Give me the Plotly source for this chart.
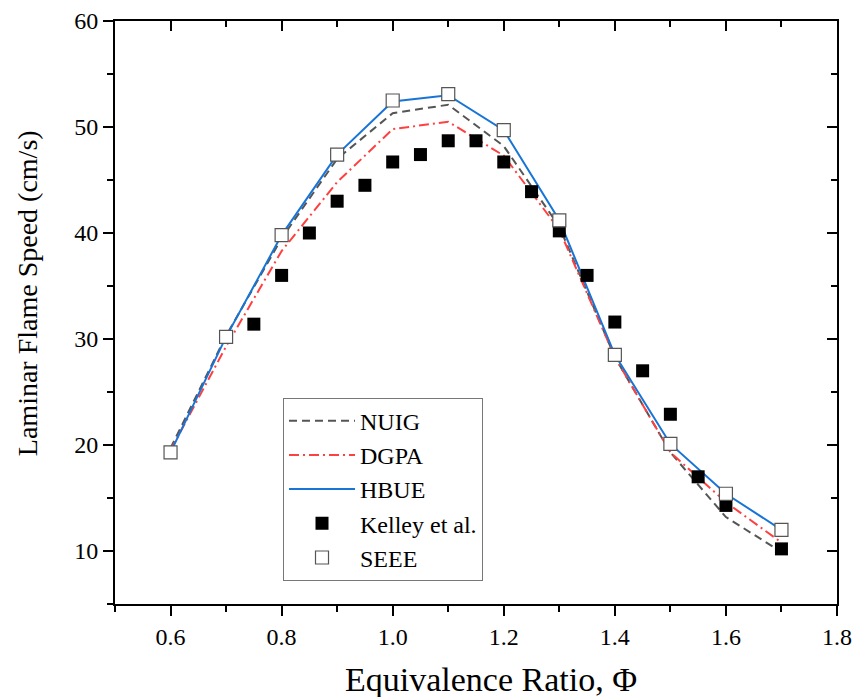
import plotly.graph_objects as go

# ---- data ----
phi_model = [0.6, 0.7, 0.8, 0.9, 1.0, 1.1, 1.2, 1.3, 1.4, 1.5, 1.6, 1.7]
nuig = [19.7, 30.3, 39.5, 47.0, 51.3, 52.1, 48.2, 40.6, 28.3, 19.3, 13.2, 9.9]
dgpa = [19.5, 29.3, 38.3, 44.8, 49.8, 50.5, 47.3, 40.3, 28.3, 19.3, 14.6, 10.8]
hbue = [19.3, 30.2, 39.8, 47.4, 52.4, 53.0, 49.7, 41.2, 28.5, 20.1, 15.4, 12.0]

phi_kelley = [0.75, 0.8, 0.85, 0.9, 0.95, 1.0, 1.05, 1.1, 1.15, 1.2, 1.25, 1.3,
              1.35, 1.4, 1.45, 1.5, 1.55, 1.6, 1.7]
kelley = [31.4, 36.0, 40.0, 43.0, 44.5, 46.7, 47.4, 48.7, 48.7, 46.7, 43.9, 40.2,
          36.0, 31.6, 27.0, 22.9, 17.0, 14.3, 10.2]

phi_seee = [0.6, 0.7, 0.8, 0.9, 1.0, 1.1, 1.2, 1.3, 1.4, 1.5, 1.6, 1.7]
seee = [19.3, 30.2, 39.8, 47.4, 52.5, 53.1, 49.7, 41.2, 28.5, 20.1, 15.4, 12.0]

x_range = [0.5, 1.8]
y_range = [5, 60]

x_title = "Equivalence Ratio, Φ"
y_title = "Laminar Flame Speed (cm/s)"

SERIF = "Liberation Serif, Times New Roman, serif"

fig = go.Figure()
fig.add_trace(go.Scatter(x=phi_model, y=nuig, mode="lines", name="NUIG",
                         line=dict(color="#555555", width=2, dash="8px,5px")))
fig.add_trace(go.Scatter(x=phi_model, y=dgpa, mode="lines", name="DGPA",
                         line=dict(color="#ff4040", width=2, dash="10px,4px,2px,4px")))
fig.add_trace(go.Scatter(x=phi_model, y=hbue, mode="lines", name="HBUE",
                         line=dict(color="#1874d6", width=2)))
fig.add_trace(go.Scatter(x=phi_kelley, y=kelley, mode="markers", name="Kelley et al.",
                         marker=dict(symbol="square", size=13, color="black",
                                     line=dict(width=0))))
fig.add_trace(go.Scatter(x=phi_seee, y=seee, mode="markers", name="SEEE",
                         marker=dict(symbol="square", size=13, color="white",
                                     line=dict(color="#555555", width=1.2))))

axis_common = dict(showgrid=False, zeroline=False, showline=True, automargin=False,
                   linecolor="black", linewidth=2, tickcolor="black", tickwidth=1.5)

fig.update_layout(
    width=855, height=697,
    margin=dict(l=115, r=18, t=21, b=93),
    paper_bgcolor="white", plot_bgcolor="white",
    font=dict(family=SERIF, color="black"),
    xaxis=dict(range=x_range, tick0=0.6, dtick=0.2, tickformat=".1f",
               ticks="outside", ticklen=10,
               minor=dict(ticks="outside", ticklen=6, dtick=0.1, tick0=0.5,
                          tickcolor="black", tickwidth=1.5),
               tickfont=dict(size=24, family=SERIF),
               **axis_common),
    yaxis=dict(range=y_range, tick0=0, dtick=10,
               ticks="outside", ticklen=10,
               minor=dict(ticks="outside", ticklen=6, dtick=5, tick0=0,
                          tickcolor="black", tickwidth=1.5),
               tickfont=dict(size=24, family=SERIF),
               **axis_common),
    xaxis2=dict(overlaying="x", side="top", range=x_range, tick0=0.6, dtick=0.2,
                ticks="inside", ticklen=10, showticklabels=False,
                minor=dict(ticks="inside", ticklen=6, dtick=0.1, tick0=0.5,
                           tickcolor="black", tickwidth=1.5),
                **axis_common),
    yaxis2=dict(overlaying="y", side="right", range=y_range, tick0=0, dtick=10,
                ticks="inside", ticklen=10, showticklabels=False,
                minor=dict(ticks="inside", ticklen=6, dtick=5, tick0=0,
                           tickcolor="black", tickwidth=1.5),
                **axis_common),
    legend=dict(x=0.2327, y=0.354, xanchor="left", yanchor="top",
                bgcolor="white", bordercolor="#777777", borderwidth=1,
                font=dict(size=24, family=SERIF, color="black"),
                itemwidth=66, tracegroupgap=0),
    showlegend=True,
    annotations=[
        dict(text=x_title, xref="paper", yref="paper", x=0.521, y=-0.130,
             xanchor="center", yanchor="middle", showarrow=False,
             font=dict(size=34, family=SERIF, color="black")),
        dict(text=y_title, xref="paper", yref="paper", x=-0.122, y=0.533,
             xanchor="center", yanchor="middle", showarrow=False, textangle=-90,
             font=dict(size=28, family=SERIF, color="black")),
    ],
)

# invisible trace to attach the mirrored axes
fig.add_trace(go.Scatter(x=[None], y=[None], xaxis="x2", yaxis="y2",
                         showlegend=False, hoverinfo="skip"))

fig.write_html("out.html")
